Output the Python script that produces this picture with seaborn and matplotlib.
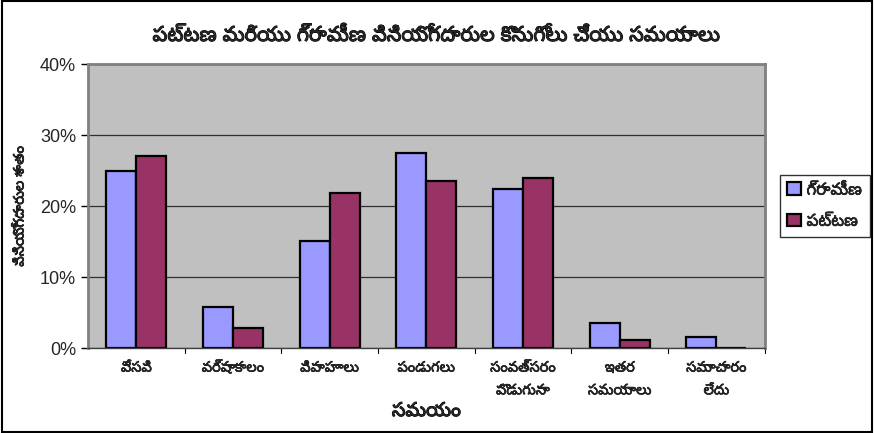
import matplotlib
matplotlib.use("Agg")
import matplotlib.pyplot as plt
import matplotlib.patheffects as pe
import seaborn as sns
import pandas as pd
from matplotlib.patches import Rectangle
from matplotlib import font_manager

categories = ["వేసవి", "వర్షాకాలం", "వివాహాలు", "పండుగలు", "సంవత్సరం\nపొడుగునా", "ఇతర\nసమయాలు", "సమాచారం\nలేదు"]
series_names = ["గ్రామీణ", "పట్టణ"]
rural = [25.0, 5.8, 15.1, 27.5, 22.4, 3.6, 1.5]
urban = [27.1, 2.9, 21.8, 23.6, 23.9, 1.1, 0.0]
yticks = [0, 10, 20, 30, 40]
title = "పట్టణ మరియు గ్రామీణ వినియోగదారుల కొనుగోలు చేయు సమయాలు"
xlabel = "సమయం"
ylabel = "వినియోగదారుల శాతం"

sns.set_theme(style="white")
available = {f.name for f in font_manager.fontManager.ttflist}
tel = [f for f in ["Noto Sans Telugu", "Mandali", "Hind Guntur", "NATS"] if f in available]
families = tel[:1] + ["Liberation Sans", "DejaVu Sans"]
plt.rcParams['font.family'] = families
bold_fx = [pe.withStroke(linewidth=0.7, foreground="black")]

df = pd.DataFrame({
    "cat": categories * 2,
    "val": rural + urban,
    "series": [series_names[0]] * len(categories) + [series_names[1]] * len(categories),
})

fig = plt.figure(figsize=(8.74, 4.33), dpi=100)
ax = fig.add_axes([0.1007, 0.196, 0.7743, 0.656])
palette = {series_names[0]: "#9999FF", series_names[1]: "#993366"}
sns.barplot(data=df, x="cat", y="val", hue="series", palette=palette, ax=ax,
            width=0.62, edgecolor="black", linewidth=1.6, saturation=1, legend=True)

ax.set_facecolor("#C0C0C0")
ax.set_ylim(0, 40)
ax.set_xlim(-0.5, len(categories) - 0.5)
ax.set_yticks(yticks)
ax.set_yticklabels([f"{v}%" for v in yticks], fontsize=13, family=["Liberation Sans", "DejaVu Sans"])
ax.yaxis.grid(True, color="#303030", linewidth=0.9)
ax.set_axisbelow(True)
ax.tick_params(axis="y", length=5, width=1, color="black", left=True)
ax.tick_params(axis="x", length=0, labelsize=10, pad=9)
ax.set_xticks(range(len(categories)))
ax.set_xticklabels(categories, fontsize=10.5, linespacing=1.7, va="top")
for t in ax.get_xticklabels():
    t.set_path_effects([pe.withStroke(linewidth=0.4, foreground="black")])
for b in [i + 0.5 for i in range(len(categories))]:
    ax.plot([b, b], [0, -0.7], color="black", lw=0.8, clip_on=False)
for s in ax.spines.values():
    s.set_color("#808080")
    s.set_linewidth(2)
ax.spines["bottom"].set_color("#404040")
ax.spines["bottom"].set_linewidth(1)

xl = ax.set_xlabel(xlabel, fontsize=14, labelpad=2)
xl.set_path_effects(bold_fx)
yl = ax.set_ylabel(ylabel, fontsize=10.5, labelpad=9)
yl.set_path_effects([pe.withStroke(linewidth=0.5, foreground="black")])
tt = fig.text(0.5, 0.918, title, ha="center", va="center", fontsize=15)
tt.set_path_effects(bold_fx)

leg = ax.legend(loc="center left", bbox_to_anchor=(1.01, 0.5), frameon=True,
                fancybox=False, edgecolor="black", fontsize=12, handlelength=0.8,
                handleheight=0.8, handletextpad=0.35, borderpad=0.45, labelspacing=0.9)
leg.get_frame().set_linewidth(1)
for t in leg.get_texts():
    t.set_path_effects([pe.withStroke(linewidth=0.4, foreground="black")])

fig.patches.append(Rectangle((0.002, 0.003), 0.996, 0.994, transform=fig.transFigure,
                             fill=False, edgecolor="black", linewidth=1.5))

fig.savefig("out.png", dpi=100, facecolor="white")
